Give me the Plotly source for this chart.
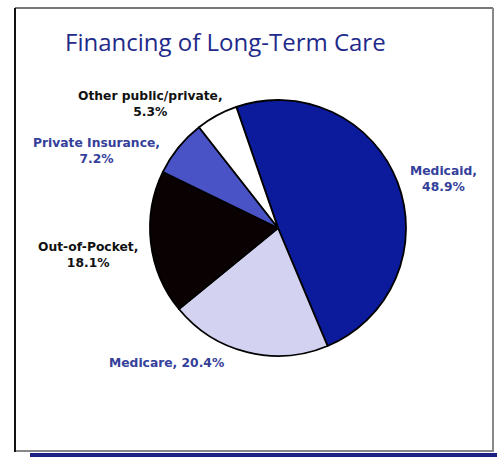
import plotly.graph_objects as go

categories = ["Medicaid", "Medicare", "Out-of-Pocket", "Private Insurance", "Other public/private"]
values = [48.9, 20.4, 18.1, 7.2, 5.3]
colors = ["#0c1b9b", "#d3d3f1", "#0a0202", "#4a53c6", "#ffffff"]
label_colors = ["#34409a", "#34409a", "#111111", "#34409a", "#111111"]
title_text = "Financing of Long-Term Care"

W, H = 497, 457
cx, cy, r = 278, 228, 128

fig = go.Figure()
fig.add_trace(go.Pie(
    labels=categories, values=values, sort=False, direction="clockwise",
    rotation=-19, textinfo="none", hoverinfo="label+percent",
    marker=dict(colors=colors, line=dict(color="#000000", width=1.8)),
    domain=dict(x=[(cx - r) / W, (cx + r) / W], y=[(H - cy - r) / H, (H - cy + r) / H]),
    showlegend=False,
))

# label positions (pixels) and line break formats
label_pos = {
    "Medicaid": (443, 179, "{c},<br>{v}%"),
    "Medicare": (166, 363, "{c}, {v}%"),
    "Out-of-Pocket": (88, 255, "{c},<br>{v}%"),
    "Private Insurance": (96, 151, "{c},<br>{v}%"),
    "Other public/private": (150, 104, "{c},<br>{v}%"),
}
annotations = []
for c, v, lc in zip(categories, values, label_colors):
    x, y, fmt = label_pos[c]
    annotations.append(dict(
        x=x / W, y=1 - y / H, xref="paper", yref="paper", showarrow=False,
        text="<b>" + fmt.format(c=c, v=v) + "</b>",
        font=dict(family="DejaVu Sans", size=12.3, color=lc),
        xanchor="center", yanchor="middle", align="center",
    ))
annotations.append(dict(
    x=63 / W, y=1 - 42 / H, xref="paper", yref="paper", showarrow=False,
    text=title_text, xanchor="left", yanchor="middle",
    font=dict(family="Open Sans", size=24, color="#1f2a8a"),
))

def px(x):
    return x / W

def py(y):
    return 1 - y / H

shapes = [
    dict(type="line", x0=px(15), x1=px(493), y0=py(8), y1=py(8), line=dict(color="#777777", width=2), xref="paper", yref="paper"),
    dict(type="line", x0=px(493), x1=px(493), y0=py(8), y1=py(452), line=dict(color="#888888", width=2), xref="paper", yref="paper"),
    dict(type="line", x0=px(15), x1=px(493), y0=py(451), y1=py(451), line=dict(color="#888888", width=2), xref="paper", yref="paper"),
    dict(type="line", x0=px(15), x1=px(15), y0=py(8), y1=py(452), line=dict(color="#111111", width=2), xref="paper", yref="paper"),
    dict(type="rect", x0=px(30), x1=px(497), y0=py(453), y1=py(457), fillcolor="#1b2283", line=dict(width=0), xref="paper", yref="paper"),
]

fig.update_layout(
    width=W, height=H, margin=dict(l=0, r=0, t=0, b=0),
    paper_bgcolor="#ffffff", plot_bgcolor="#ffffff",
    annotations=annotations, shapes=shapes,
)
fig.write_html("out.html")
